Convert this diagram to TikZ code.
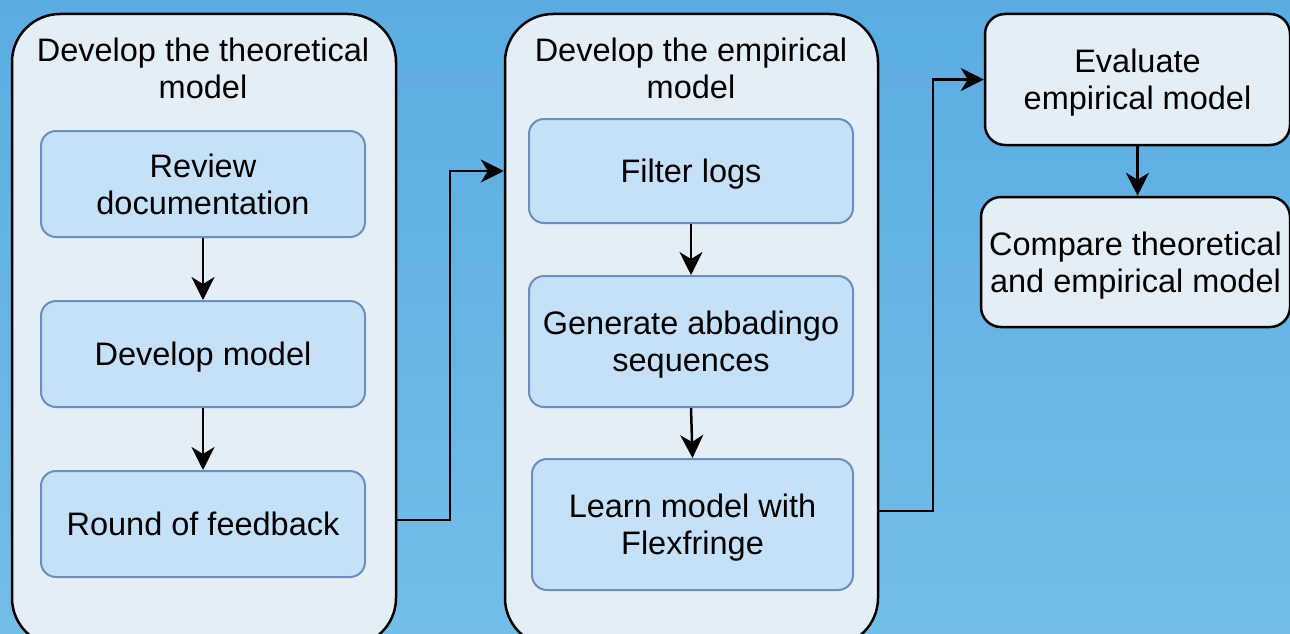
\documentclass[tikz,border=0pt]{standalone}
\usepackage{fontspec}
\setmainfont{Liberation Sans}
\usetikzlibrary{arrows.meta}
\definecolor{bgtop}{HTML}{5BACE2}
\definecolor{bgbot}{HTML}{72BEE9}
\definecolor{contfill}{HTML}{E4EEF7}
\definecolor{innerfill}{HTML}{C5E1F8}
\definecolor{innerdraw}{HTML}{6C8EBF}
\begin{document}
\begin{tikzpicture}[x=1pt,y=-1pt,
  every node/.style={font=\fontsize{32.5}{37}\selectfont, align=center, inner sep=0pt, text depth=0pt},
  container/.style={draw=black, line width=2.5pt, fill=contfill, rounded corners=48pt},
  stepbox/.style={draw=innerdraw, line width=2pt, fill=innerfill, rounded corners=15pt},
  outerbox/.style={draw=black, line width=2.5pt, fill=contfill, rounded corners=20pt},
  conn/.style={line width=2.5pt, draw=black, -{Stealth[length=23pt,width=23pt,inset=7pt]}}
]
\useasboundingbox (0,0) rectangle (1290,634);
\shade[top color=bgtop, bottom color=bgbot] (0,0) rectangle (1290,634);

% containers
\node[container, minimum width=384pt, minimum height=632pt] (c1) at (204,330) {};
\node[container, minimum width=373pt, minimum height=632pt] (c2) at (691.5,330) {};
\node (t1) at (203,68) {Develop the theoretical\\model};
\node (t2) at (691,68) {Develop the empirical\\model};

% theoretical steps
\node[stepbox, minimum width=324pt, minimum height=106pt] (rd) at (203,184) {Review\\documentation};
\node[stepbox, minimum width=324pt, minimum height=106pt] (dm) at (203,354) {Develop model};
\node[stepbox, minimum width=324pt, minimum height=106pt] (rf) at (203,524) {Round of feedback};

% empirical steps
\node[stepbox, minimum width=324pt, minimum height=104pt] (fl) at (691,171) {Filter logs};
\node[stepbox, minimum width=324pt, minimum height=131pt] (gs) at (691,341.5) {Generate abbadingo\\sequences};
\node[stepbox, minimum width=321pt, minimum height=131pt] (lm) at (692.5,524.5) {Learn model with\\Flexfringe};

% right boxes
\node[outerbox, minimum width=305pt, minimum height=131pt] (ev) at (1137.5,79.5) {Evaluate\\empirical model};
\node[outerbox, minimum width=309pt, minimum height=130pt] (cp) at (1135.5,262) {Compare theoretical\\and empirical model};

% connectors
\draw[conn] (rd.south) -- (dm.north);
\draw[conn] (dm.south) -- (rf.north);
\draw[conn] (fl.south) -- (fl.south |- gs.north);
\draw[conn] (gs.south) -- (lm.north);
\draw[conn] (ev.south) -- (ev.south |- cp.north);
\draw[conn] (c1.east |- 0,520) -- (450,520) |- (c2.west |- fl);
\draw[conn] (c2.east |- 0,511) -- (933,511) |- (ev.west);
\end{tikzpicture}
\end{document}
